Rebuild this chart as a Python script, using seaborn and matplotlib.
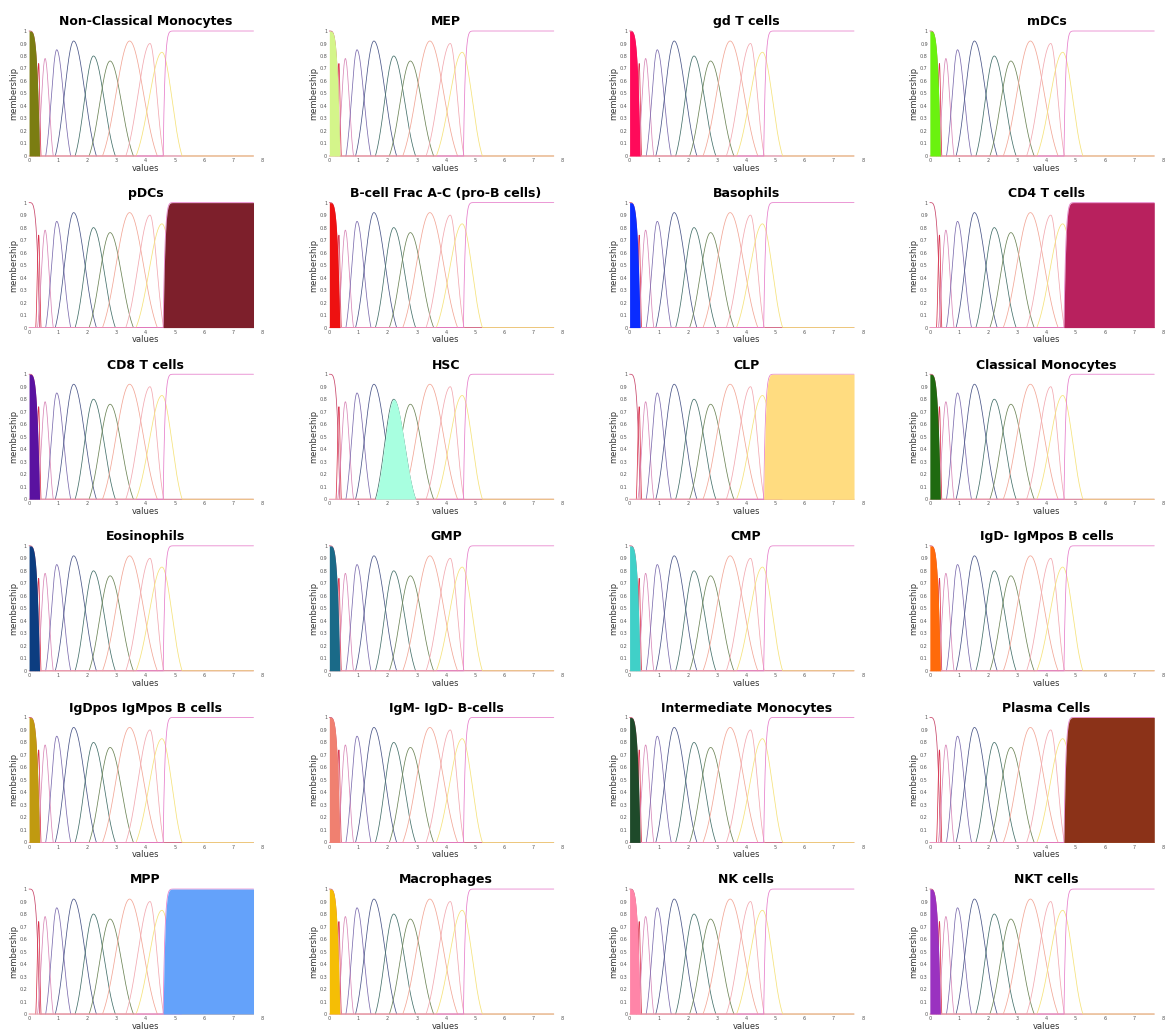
import numpy as np
import pandas as pd
import matplotlib
matplotlib.use("Agg")
import matplotlib.pyplot as plt
import seaborn as sns

# ---------------- data ----------------
titles = [
    "Non-Classical Monocytes", "MEP", "gd T cells", "mDCs",
    "pDCs", "B-cell Frac A-C (pro-B cells)", "Basophils", "CD4 T cells",
    "CD8 T cells", "HSC", "CLP", "Classical Monocytes",
    "Eosinophils", "GMP", "CMP", "IgD- IgMpos B cells",
    "IgDpos IgMpos B cells", "IgM- IgD- B-cells", "Intermediate Monocytes", "Plasma Cells",
    "MPP", "Macrophages", "NK cells", "NKT cells",
]
fill_colors = [
    "#7b7d12", "#d4f58a", "#ff0a5a", "#6af20f",
    "#7d1f2b", "#ee1111", "#0a2cff", "#b8215e",
    "#5a12a0", "#a8ffe0", "#ffdc80", "#1f6a10",
    "#0c3d80", "#1a6a88", "#40d0c8", "#ff6a0a",
    "#c09a10", "#f08070", "#1e4a2a", "#8b3218",
    "#64a2fa", "#f5be05", "#ff85a8", "#9a32c0",
]
# index of the membership function filled in each panel
filled_index = [
    0, 0, 0, 0,
    10, 0, 0, 10,
    0, 5, 10, 0,
    0, 0, 0, 0,
    0, 0, 0, 10,
    10, 0, 0, 0,
]

# low membership function (z-shape): 1 at 0, reaches 0 at z_end
z_end = 0.36
# bell-shaped membership functions
bell_left = [0.23, 0.29, 0.57, 0.90, 1.58, 2.06, 2.52, 3.32, 3.67]
bell_center = [0.33, 0.55, 0.95, 1.53, 2.21, 2.78, 3.45, 4.15, 4.56]
bell_right = [0.41, 0.83, 1.43, 2.31, 2.96, 3.58, 4.40, 4.62, 5.25]
bell_height = [0.74, 0.78, 0.85, 0.92, 0.80, 0.76, 0.92, 0.90, 0.83]
# high membership function (s-shape): 0 until s_start, 1 from s_end to x_max
s_start = 4.60
s_end = 5.05
x_max = 7.7

curve_names = ["low"] + [f"mid{i + 1}" for i in range(len(bell_center))] + ["high"]
line_colors = [
    "#c8466a", "#d8304a", "#d888b8", "#7c6cae", "#4a5688", "#44706a",
    "#6c8456", "#f2a696", "#f2a8b0", "#f5e27a", "#e67cca",
]

# ---------------- membership curves ----------------
x = np.linspace(0, x_max, 3081)


def bell_shape(u, k=2.0):
    # u: 0 at peak, 1 at foot
    return (np.exp(-k * u ** 2) - np.exp(-k)) / (1 - np.exp(-k))


def bell(xv, l, c, r, h):
    y = np.zeros_like(xv)
    m = (xv >= l) & (xv <= c)
    y[m] = h * bell_shape((c - xv[m]) / (c - l))
    m = (xv > c) & (xv <= r)
    y[m] = h * bell_shape((xv[m] - c) / (r - c))
    return y


curves = []
z = np.zeros_like(x)
m = x <= z_end
z[m] = 1 - (x[m] / z_end) ** 4
curves.append(z)
for l, c, r, h in zip(bell_left, bell_center, bell_right, bell_height):
    curves.append(bell(x, l, c, r, h))
s = np.zeros_like(x)
m = (x >= s_start) & (x <= s_end)
s[m] = 1 - (1 - (x[m] - s_start) / (s_end - s_start)) ** 7
s[x > s_end] = 1.0
curves.append(s)

frames = []
for i, (n, y) in enumerate(zip(curve_names, curves)):
    d = pd.DataFrame({"values": x, "membership": y, "curve": n})
    if i < len(curves) - 2:
        # the zero stretches of these curves are hidden under the later curves' baseline
        keep = (y > 0) | (np.roll(y, 1) > 0) | (np.roll(y, -1) > 0)
        d = d[keep]
    frames.append(d)
df = pd.concat(frames, ignore_index=True)

# ---------------- figure ----------------
sns.set_style("white")
plt.rcParams["font.family"] = ["DejaVu Sans"]

fig, axes = plt.subplots(6, 4, figsize=(11.67, 10.30), dpi=100)
fig.subplots_adjust(left=0.0249, right=0.9966, top=0.9699, bottom=0.0155,
                    wspace=0.2876, hspace=0.373)

for ax, title, fc, fi in zip(axes.flat, titles, fill_colors, filled_index):
    sns.lineplot(data=df, x="values", y="membership", hue="curve",
                 hue_order=curve_names, palette=line_colors, legend=False,
                 estimator=None, sort=False, linewidth=0.55, ax=ax)
    for ln in ax.lines:
        ln.set_clip_on(False)
    ax.fill_between(x, 0, curves[fi], color=fc, linewidth=0, zorder=3)
    ax.set_xlim(0, 8)
    ax.set_ylim(0, 1)
    ax.set_xticks(range(0, 9))
    ax.set_yticks(np.round(np.arange(0, 1.01, 0.1), 1))
    ax.set_yticklabels(["0"] + [f"{v:.1f}" for v in np.arange(0.1, 0.95, 0.1)] + ["1"])
    ax.tick_params(axis="both", labelsize=3.5, length=0, pad=1.5, labelcolor="#555555")
    ax.set_xlabel("values", fontsize=6, labelpad=0.5, color="#333333")
    ax.set_ylabel("membership", fontsize=6, labelpad=1, color="#333333")
    ax.set_title(title, fontsize=9, fontweight="bold", pad=4, color="black")
    for sp in ax.spines.values():
        sp.set_visible(False)

fig.savefig("out.png", dpi=100)
